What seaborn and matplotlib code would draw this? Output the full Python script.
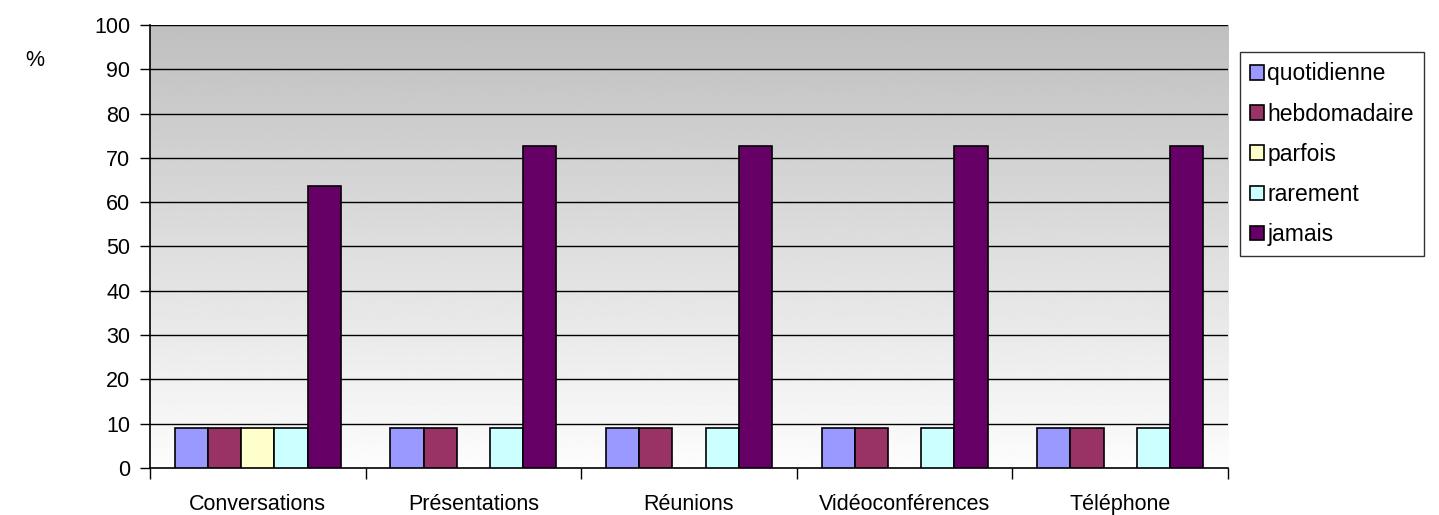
import numpy as np
import pandas as pd
import matplotlib
matplotlib.use("Agg")
import matplotlib.pyplot as plt
import seaborn as sns

# Données (%)
categories = ["Conversations", "Présentations", "Réunions", "Vidéoconférences", "Téléphone"]
frequences = ["quotidienne", "hebdomadaire", "parfois", "rarement", "jamais"]
quotidienne = [9.09, 9.09, 9.09, 9.09, 9.09]
hebdomadaire = [9.09, 9.09, 9.09, 9.09, 9.09]
parfois = [9.09, np.nan, np.nan, np.nan, np.nan]
rarement = [9.09, 9.09, 9.09, 9.09, 9.09]
jamais = [63.6, 72.7, 72.7, 72.7, 72.7]
couleurs = ["#9999FF", "#993366", "#FFFFCC", "#CCFFFF", "#660066"]

series = [quotidienne, hebdomadaire, parfois, rarement, jamais]
rows = []
for freq, vals in zip(frequences, series):
    for cat, v in zip(categories, vals):
        rows.append({"categorie": cat, "frequence": freq, "pct": v})
df = pd.DataFrame(rows).dropna()

sns.set_style("white")
plt.rcParams['font.family'] = ['Liberation Sans', 'DejaVu Sans']
plt.rcParams['text.color'] = 'black'
plt.rcParams['xtick.color'] = 'black'
plt.rcParams['ytick.color'] = 'black'

fig = plt.figure(figsize=(14.39, 5.15), dpi=100)
ax = fig.add_axes([0.1042, 0.0913, 0.7492, 0.8602])

# Fond dégradé gris (haut) -> blanc (bas)
grad = np.linspace(0.75, 0.99, 256).reshape(-1, 1)
ax.imshow(grad, cmap="gray", vmin=0, vmax=1, aspect="auto",
          extent=[0, 1, 0, 1], transform=ax.transAxes, zorder=0)

sns.barplot(data=df, x="categorie", y="pct", hue="frequence",
            order=categories, hue_order=frequences, palette=couleurs,
            width=0.77, edgecolor="black", linewidth=1.2, saturation=1,
            errorbar=None, ax=ax, zorder=3)

ax.set_ylim(0, 100)
ax.set_xlim(-0.5, 4.5)
ax.set_yticks(range(0, 101, 10))
for y in range(10, 101, 10):
    ax.axhline(y, color="black", linewidth=1, zorder=2)

ax.set_xticks([i for i in range(5)])
ax.set_xticklabels(categories, fontsize=15.5, color="black")
ax.tick_params(axis="x", length=0, pad=19)
ax.set_xticks([i - 0.5 for i in range(6)], minor=True)
ax.tick_params(axis="x", which="minor", length=8, width=1, color="black", direction="out")
ax.tick_params(axis="y", length=7, width=1, color="black", labelcolor="black",
               direction="out", labelsize=15.5, pad=7)
ax.tick_params(axis="y", left=True)
ax.xaxis.set_tick_params(which="minor", bottom=True)

for s in ["top", "right"]:
    ax.spines[s].set_visible(False)
for s in ["left", "bottom"]:
    ax.spines[s].set_color("black")
    ax.spines[s].set_linewidth(1.2)
ax.set_xlabel("")
ax.set_ylabel("")

fig.text(0.0175, 0.882, "%", fontsize=15.5, ha="left", va="center", color="black")

handles, labels = ax.get_legend_handles_labels()
leg = ax.legend(handles, labels, loc="upper left", bbox_to_anchor=(0.8617, 0.899),
                bbox_transform=fig.transFigure, frameon=True, fancybox=False,
                edgecolor="black", fontsize=16.5, handlelength=0.6, handleheight=0.6,
                handletextpad=0.15, labelspacing=0.75, borderpad=0.45, borderaxespad=0)
leg.get_frame().set_linewidth(1)
for t in leg.get_texts():
    t.set_color("black")

fig.savefig("out.png", dpi=100)
